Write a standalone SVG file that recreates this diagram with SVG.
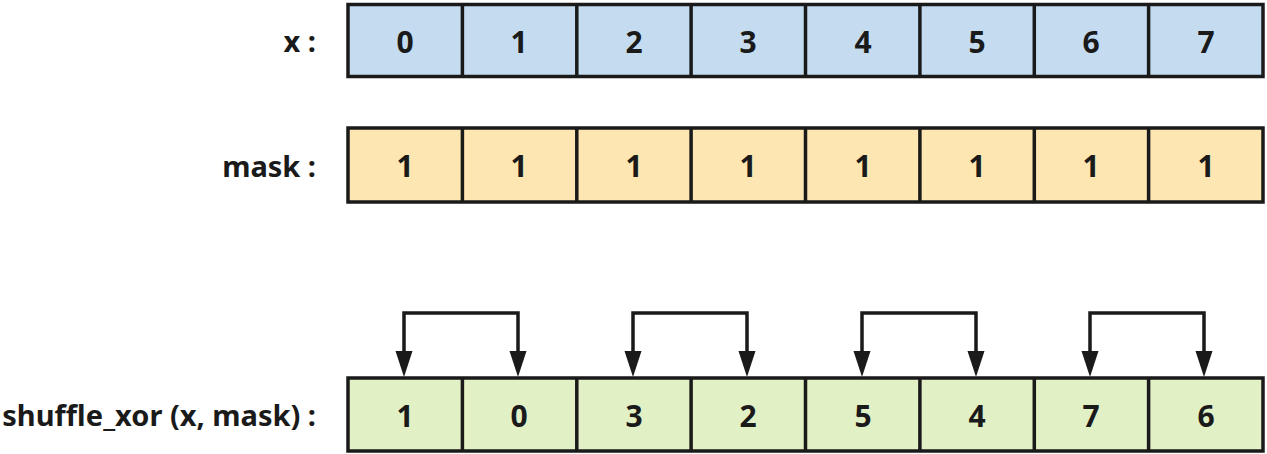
<svg xmlns="http://www.w3.org/2000/svg" width="1267" height="454" viewBox="0 0 1267 454">
<style>
.cell{stroke:#1a1a1a;stroke-width:3.5}
.x{fill:#c5dcf0}.m{fill:#fde6b1}.r{fill:#e2f0c5}
.v{font-family:"Noto Sans","Open Sans",sans-serif;font-weight:bold;font-size:30px;fill:#1a1a1a;text-anchor:middle;dominant-baseline:central}
.lbl{font-family:"Noto Sans","Open Sans",sans-serif;font-weight:bold;font-size:29px;fill:#1a1a1a;text-anchor:end;dominant-baseline:central}
.c{fill:none;stroke:#1a1a1a;stroke-width:3.5}
.ah{fill:#1a1a1a}
</style>
<defs>
<path id="head" class="ah" d="M-8.5,-26 L8.5,-26 L0,0 Z"/>
</defs>
<g id="labels">
<text class="lbl" x="316" y="40">x :</text>
<text class="lbl" x="316" y="165">mask :</text>
<text class="lbl" x="316" y="414">shuffle_xor (x, mask) :</text>
</g>
<g id="row-x">
<rect class="cell x" x="348" y="4.5" width="915" height="72"/>
<path class="cell" d="M462.4,4.5V76.5M576.8,4.5V76.5M691.1,4.5V76.5M805.5,4.5V76.5M919.9,4.5V76.5M1034.3,4.5V76.5M1148.6,4.5V76.5"/>
<text class="v" x="405" y="41">0</text><text class="v" x="519" y="41">1</text><text class="v" x="634" y="41">2</text><text class="v" x="748" y="41">3</text><text class="v" x="863" y="41">4</text><text class="v" x="977" y="41">5</text><text class="v" x="1091" y="41">6</text><text class="v" x="1206" y="41">7</text>
</g>
<g id="row-mask">
<rect class="cell m" x="348" y="128" width="915" height="74"/>
<path class="cell" d="M462.4,128V202M576.8,128V202M691.1,128V202M805.5,128V202M919.9,128V202M1034.3,128V202M1148.6,128V202"/>
<text class="v" x="405" y="165">1</text><text class="v" x="519" y="165">1</text><text class="v" x="634" y="165">1</text><text class="v" x="748" y="165">1</text><text class="v" x="863" y="165">1</text><text class="v" x="977" y="165">1</text><text class="v" x="1091" y="165">1</text><text class="v" x="1206" y="165">1</text>
</g>
<g id="row-result">
<rect class="cell r" x="348" y="378" width="915" height="73"/>
<path class="cell" d="M462.4,378V451M576.8,378V451M691.1,378V451M805.5,378V451M919.9,378V451M1034.3,378V451M1148.6,378V451"/>
<text class="v" x="405" y="415">1</text><text class="v" x="519" y="415">0</text><text class="v" x="634" y="415">3</text><text class="v" x="748" y="415">2</text><text class="v" x="863" y="415">5</text><text class="v" x="977" y="415">4</text><text class="v" x="1091" y="415">7</text><text class="v" x="1206" y="415">6</text>
</g>
<g id="connectors">
<path class="c" d="M404,356V313H518V356"/>
<path class="c" d="M633,356V313H747V356"/>
<path class="c" d="M862,356V313H976V356"/>
<path class="c" d="M1090,356V313H1204V356"/>
<use href="#head" x="404" y="377"/><use href="#head" x="518" y="377"/>
<use href="#head" x="633" y="377"/><use href="#head" x="747" y="377"/>
<use href="#head" x="862" y="377"/><use href="#head" x="976" y="377"/>
<use href="#head" x="1090" y="377"/><use href="#head" x="1204" y="377"/>
</g>
</svg>
